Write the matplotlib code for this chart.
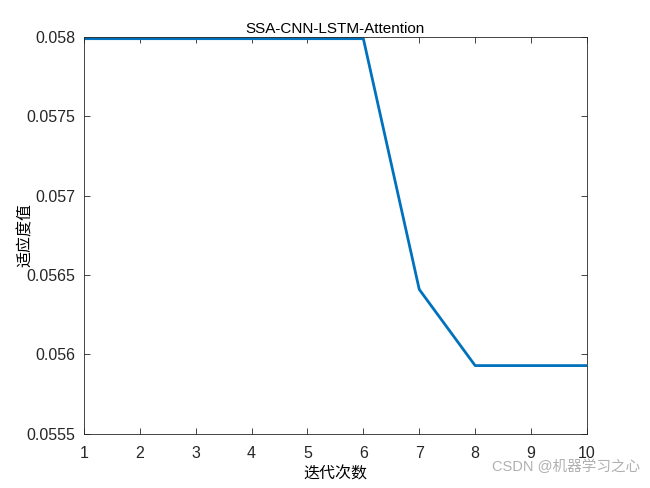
import numpy as np
import matplotlib
matplotlib.use("Agg")
from matplotlib import pyplot as plt

plt.rcParams['font.family'] = ['Liberation Sans', 'Noto Sans CJK SC', 'DejaVu Sans']

# fitness curve
iters = [1, 2, 3, 4, 5, 6, 7, 8, 9, 10]
fitness = [0.05799, 0.05799, 0.05799, 0.05799, 0.05799, 0.05799,
           0.05641, 0.05593, 0.05593, 0.05593]
yticks = [0.0555, 0.056, 0.0565, 0.057, 0.0575, 0.058]
ytick_labels = ['0.0555', '0.056', '0.0565', '0.057', '0.0575', '0.058']

fig = plt.figure(figsize=(6.5, 4.88), dpi=100)
ax = fig.add_axes([0.129, 0.111, 0.774, 0.813])

ax.plot(iters, fitness, color='#0072BD', lw=2)

ax.set_xlim(1, 10)
ax.set_ylim(0.0555, 0.058)
ax.set_xticks(iters)
ax.set_yticks(yticks)
ax.set_yticklabels(ytick_labels)
ax.tick_params(direction='in', top=True, right=True, labelsize=11.5,
               length=4, width=0.6, colors='#262626')
ax.tick_params(axis='x', pad=9)
ax.tick_params(axis='y', pad=6)
for s in ax.spines.values():
    s.set_linewidth(0.6)
    s.set_color('#262626')

ax.set_title('SSA-CNN-LSTM-Attention', fontsize=11, pad=3)
ax.set_xlabel('迭代次数', fontsize=11.5, family=['Noto Sans CJK SC'], labelpad=3)
ax.set_ylabel('适应度值', fontsize=11.5, family=['Noto Sans CJK SC'])
ax.yaxis.set_label_coords(-0.099, 0.5)

fig.text(0.985, 0.028, 'CSDN @机器学习之心', fontsize=10.5, color='#b0b0b0',
         ha='right', va='bottom', family=['Liberation Sans', 'Noto Sans CJK SC'])

fig.savefig('out.png', dpi=100)
